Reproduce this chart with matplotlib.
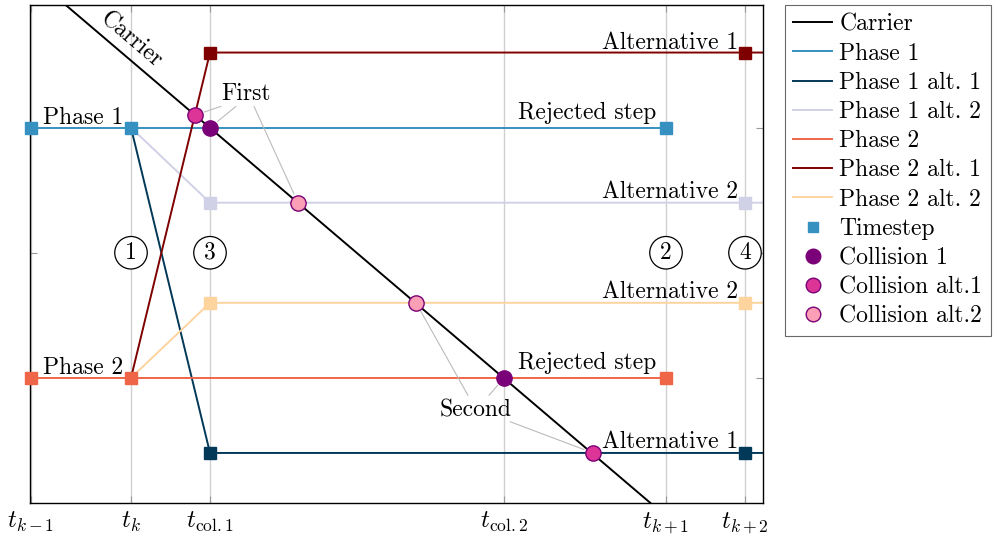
import matplotlib
matplotlib.use('Agg')
import matplotlib.pyplot as plt
from matplotlib.lines import Line2D

plt.rcParams['font.family'] = 'serif'
plt.rcParams['font.serif'] = ['cmr10']
plt.rcParams['mathtext.fontset'] = 'cm'
plt.rcParams['axes.unicode_minus'] = False

# time axis
t_vals = [0, 1, 1.79, 4.73, 6.35, 7.14]
t_labels = [r'$t_{k-1}$', r'$t_k$', r'$t_{\mathrm{col.1}}$', r'$t_{\mathrm{col.2}}$',
            r'$t_{k+1}$', r'$t_{k+2}$']

# carrier line (straight, runs through collisions)
carrier_x = [0.2, 6.4]
carrier_y = [4.08, -0.14]

# phase lines
p1_x = [0, 1, 6.35]
p1_y = [3, 3, 3]
p1a1_x = [1, 1.79, 7.6]
p1a1_y = [3, 0.4, 0.4]
p1a2_x = [1, 1.79, 7.6]
p1a2_y = [3, 2.4, 2.4]
p2_x = [0, 1, 6.35]
p2_y = [1, 1, 1]
p2a1_x = [1, 1.79, 7.6]
p2a1_y = [1, 3.6, 3.6]
p2a2_x = [1, 1.79, 7.6]
p2a2_y = [1, 1.6, 1.6]

# timestep markers
p1_ts_x = [0, 1, 6.35]
p2_ts_x = [0, 1, 6.35]
alt_ts_x = [1.79, 7.14]

# collisions
col1_x = [1.79, 4.73]
col1_y = [3.0, 1.0]
cola1_x = [1.64, 5.62]
cola1_y = [3.1, 0.4]
cola2_x = [2.67, 3.85]
cola2_y = [2.4, 1.6]

c_carrier = 'black'
c_p1, c_p1a1, c_p1a2 = '#3690c0', '#023858', '#d0d1e6'
c_p2, c_p2a1, c_p2a2 = '#ef6548', '#7f0000', '#fdd49e'
c_col1, c_cola1, c_cola2 = '#7a0177', '#dd3497', '#fa9fb5'
c_edge = '#7a0177'

fig = plt.figure(figsize=(9.95, 5.43), dpi=100)
ax = fig.add_axes([30 / 995, 40 / 543, 733 / 995, 498 / 543])

lw = 1.4
ax.plot(carrier_x, carrier_y, color=c_carrier, lw=lw, zorder=3)
ax.plot(p1_x, p1_y, color=c_p1, lw=lw, zorder=2)
ax.plot(p1a1_x, p1a1_y, color=c_p1a1, lw=lw, zorder=2)
ax.plot(p1a2_x, p1a2_y, color=c_p1a2, lw=lw, zorder=2)
ax.plot(p2_x, p2_y, color=c_p2, lw=lw, zorder=2)
ax.plot(p2a1_x, p2a1_y, color=c_p2a1, lw=lw, zorder=2)
ax.plot(p2a2_x, p2a2_y, color=c_p2a2, lw=lw, zorder=2)

ms = 8.7
ax.plot(p1_ts_x, [p1_y[0]] * len(p1_ts_x), 's', color=c_p1, ms=ms, zorder=4, clip_on=False)
ax.plot(p2_ts_x, [p2_y[0]] * len(p2_ts_x), 's', color=c_p2, ms=ms, zorder=4, clip_on=False)
ax.plot(alt_ts_x, [p1a1_y[-1]] * 2, 's', color=c_p1a1, ms=ms, zorder=4)
ax.plot(alt_ts_x, [p1a2_y[-1]] * 2, 's', color=c_p1a2, ms=ms, zorder=4)
ax.plot(alt_ts_x, [p2a1_y[-1]] * 2, 's', color=c_p2a1, ms=ms, zorder=4)
ax.plot(alt_ts_x, [p2a2_y[-1]] * 2, 's', color=c_p2a2, ms=ms, zorder=4)

cs = 11
ax.plot(col1_x, col1_y, 'o', color=c_col1, mec=c_edge, mew=1, ms=cs, zorder=5)
ax.plot(cola1_x, cola1_y, 'o', color=c_cola1, mec=c_edge, mew=1, ms=cs, zorder=5)
ax.plot(cola2_x, cola2_y, 'o', color=c_cola2, mec=c_edge, mew=1, ms=cs, zorder=5)

fs = 17
ax.text(0.12, 3.03, 'Phase 1', fontsize=fs, va='baseline', ha='left')
ax.text(0.12, 1.03, 'Phase 2', fontsize=fs, va='baseline', ha='left')
ax.text(1.0, 3.7, 'Carrier', fontsize=fs, va='center', ha='center', rotation=-40.5)
ax.text(7.07, 3.63, 'Alternative 1', fontsize=fs, va='baseline', ha='right')
ax.text(6.25, 3.07, 'Rejected step', fontsize=fs, va='baseline', ha='right')
ax.text(7.07, 2.44, 'Alternative 2', fontsize=fs, va='baseline', ha='right')
ax.text(7.07, 1.64, 'Alternative 2', fontsize=fs, va='baseline', ha='right')
ax.text(6.25, 1.07, 'Rejected step', fontsize=fs, va='baseline', ha='right')
ax.text(7.07, 0.44, 'Alternative 1', fontsize=fs, va='baseline', ha='right')

# circled step numbers
for xv, s in zip([t_vals[1], t_vals[4], t_vals[2], t_vals[5]], ['1', '2', '3', '4']):
    ax.text(xv, 2.0, s, fontsize=fs, ha='center', va='center', zorder=6,
            bbox=dict(boxstyle='circle,pad=0.22', fc='white', ec='black', lw=0.9))

# annotations
ax.text(2.15, 3.27, 'First', fontsize=fs, ha='center', va='center')
ax.text(4.45, 0.74, 'Second', fontsize=fs, ha='center', va='center')
gray = dict(arrowstyle='-', color='#bbbbbb', lw=0.8, shrinkA=0, shrinkB=7)
first_start = [(1.90, 3.17), (2.05, 3.17), (2.23, 3.17)]
first_end = [(cola1_x[0], cola1_y[0]), (col1_x[0], col1_y[0]), (cola2_x[0], cola2_y[0])]
for s, e in zip(first_start, first_end):
    ax.annotate('', xy=e, xytext=s, arrowprops=gray)
second_start = [(4.37, 0.86), (4.58, 0.86), (4.79, 0.65)]
second_end = [(cola2_x[1], cola2_y[1]), (col1_x[1], col1_y[1]), (cola1_x[1], cola1_y[1])]
for s, e in zip(second_start, second_end):
    ax.annotate('', xy=e, xytext=s, arrowprops=gray)

ax.set_xlim(-0.01, 7.32)
ax.set_ylim(0, 3.98)
ax.set_xticks(t_vals)
ax.set_xticklabels(t_labels, fontsize=18)
ax.set_yticks([1, 2, 3])
ax.set_yticklabels([])
ax.tick_params(direction='in', length=5, color='#999999', top=True, right=True)
ax.tick_params(axis='x', pad=5)
ax.grid(axis='x', color='#d0d0d0', lw=1)
ax.set_axisbelow(True)
for sp in ax.spines.values():
    sp.set_linewidth(1)

handles = [
    Line2D([], [], color=c_carrier, lw=lw, label='Carrier'),
    Line2D([], [], color=c_p1, lw=lw, label='Phase 1'),
    Line2D([], [], color=c_p1a1, lw=lw, label='Phase 1 alt. 1'),
    Line2D([], [], color=c_p1a2, lw=lw, label='Phase 1 alt. 2'),
    Line2D([], [], color=c_p2, lw=lw, label='Phase 2'),
    Line2D([], [], color=c_p2a1, lw=lw, label='Phase 2 alt. 1'),
    Line2D([], [], color=c_p2a2, lw=lw, label='Phase 2 alt. 2'),
    Line2D([], [], ls='', marker='s', color=c_p1, ms=7.5, label='Timestep'),
    Line2D([], [], ls='', marker='o', color=c_col1, mec=c_edge, ms=10.5, label='Collision 1'),
    Line2D([], [], ls='', marker='o', color=c_cola1, mec=c_edge, ms=10.5, label='Collision alt.1'),
    Line2D([], [], ls='', marker='o', color=c_cola2, mec=c_edge, ms=10.5, label='Collision alt.2'),
]
leg = fig.legend(handles=handles, loc='upper left', bbox_to_anchor=(785 / 995, 1 - 5 / 543),
                 borderaxespad=0, fontsize=fs, frameon=True, fancybox=False,
                 edgecolor='#444444', handlelength=1.65, labelspacing=0.3,
                 handletextpad=0.3, borderpad=0.35)
leg.get_frame().set_linewidth(0.8)

fig.savefig('out.png', dpi=100)
